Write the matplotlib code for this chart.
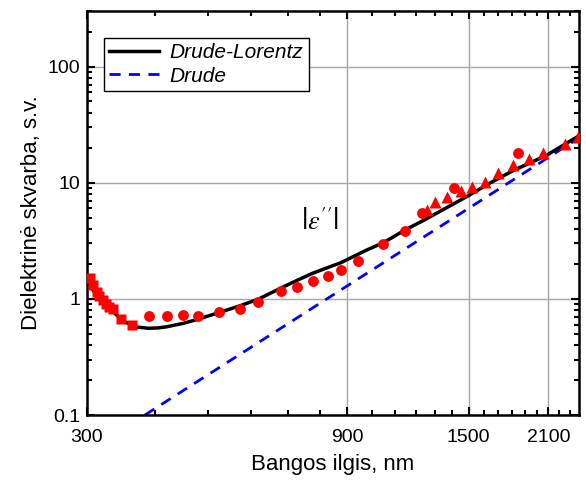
import numpy as np
import matplotlib
matplotlib.use("Agg")
import matplotlib.pyplot as plt
from matplotlib.ticker import FixedLocator, NullFormatter, FixedFormatter

plt.rcParams['font.family'] = ['Liberation Sans', 'DejaVu Sans']

# Drude-Lorentz model curve, |eps''| vs wavelength (nm)
dl_wl = [300, 305, 310, 317, 324, 335, 349, 367, 388, 405, 420, 450, 480,
         524, 574, 618, 679, 727, 777, 826, 876, 976, 1047, 1147, 1239,
         1360, 1488, 1640, 1811, 2084, 2389]
dl_val = [1.43, 1.27, 1.13, 1.0, 0.888, 0.773, 0.647, 0.575, 0.558, 0.562,
          0.575, 0.615, 0.669, 0.763, 0.876, 0.994, 1.235, 1.44, 1.66, 1.85,
          2.05, 2.63, 3.04, 3.91, 4.72, 6.0, 7.58, 9.9, 12.7, 17.2, 25.3]

# Drude model (straight line in log-log)
dr_wl = [383, 2400]
dr_val = [0.1, 24.6]

# measured points
sq_wl = [304, 308, 312.5, 316, 320.6, 325, 329.6, 335, 346, 363]
sq_val = [1.51, 1.32, 1.155, 1.06, 0.98, 0.906, 0.859, 0.816, 0.674, 0.598]

ci_wl = [390, 420, 449, 480, 524, 573, 618, 680, 727, 777, 828, 876, 942,
         1047, 1147, 1235, 1413, 1845]
ci_val = [0.705, 0.715, 0.729, 0.705, 0.778, 0.818, 0.942, 1.178, 1.275,
          1.436, 1.585, 1.774, 2.13, 2.97, 3.83, 5.51, 9.06, 18.0]

tr_wl = [1258, 1302, 1369, 1450, 1525, 1605, 1700, 1812, 1935, 2057, 2252, 2384]
tr_val = [5.87, 6.87, 7.46, 8.40, 9.15, 10.16, 12.0, 14.1, 16.1, 18.1, 21.4, 24.6]

x_major = [300, 900, 1500, 2100]
y_major = [0.1, 1, 10, 100]
y_labels = ['0.1', '1', '10', '100']

fig = plt.figure(figsize=(5.86, 4.82), dpi=100)
ax = fig.add_axes([0.1485, 0.139, 0.8395, 0.838])

ax.plot(dr_wl, dr_val, color='#0000ff', lw=2, dashes=(4, 3), label='Drude', zorder=2)
ax.plot(dl_wl, dl_val, color='black', lw=2.5, label='Drude-Lorentz', zorder=3)
ax.plot(sq_wl, sq_val, 's', color='#ff0000', ms=6.5, mec='none', zorder=4)
ax.plot(ci_wl, ci_val, 'o', color='#ff0000', ms=7.8, mec='none', zorder=4)
ax.plot(tr_wl, tr_val, '^', color='#ff0000', ms=8.5, mec='none', zorder=4)

ax.set_xscale('log')
ax.set_yscale('log')
ax.set_xlim(300, 2390)
ax.set_ylim(0.1, 300)

ax.xaxis.set_major_locator(FixedLocator(x_major))
ax.xaxis.set_major_formatter(FixedFormatter([str(v) for v in x_major]))
ax.xaxis.set_minor_locator(FixedLocator([v for v in range(400, 2400, 100) if v not in x_major]))
ax.xaxis.set_minor_formatter(NullFormatter())

ax.yaxis.set_major_locator(FixedLocator(y_major))
ax.yaxis.set_major_formatter(FixedFormatter(y_labels))
y_minor = [m * 10.0 ** e for e in range(-1, 3) for m in range(2, 10)]
ax.yaxis.set_minor_locator(FixedLocator(y_minor))
ax.yaxis.set_minor_formatter(NullFormatter())

ax.tick_params(which='both', direction='in', top=True, right=True, width=1.5)
ax.tick_params(which='major', length=6, labelsize=14)
ax.tick_params(axis='x', which='major', pad=10)
ax.tick_params(axis='y', which='major', pad=5)
ax.tick_params(which='minor', length=3.5)
for s in ax.spines.values():
    s.set_linewidth(1.8)

ax.grid(True, which='major', color='#a8a8a8', lw=1)

ax.set_xlabel('Bangos ilgis, nm', fontsize=16, labelpad=6)
ax.set_ylabel('Dielektrinė skvarba, s.v.', fontsize=16, labelpad=4)

ax.text(801, 4.67, r"$\left|\varepsilon''\right|$", fontsize=19, ha='center',
        va='center', math_fontfamily='stix')

handles, labels = ax.get_legend_handles_labels()
leg = ax.legend(handles[::-1], labels[::-1], loc='upper left',
                bbox_to_anchor=(0.0346, 0.933), borderaxespad=0,
                prop={'style': 'italic', 'size': 15}, handlelength=2.4,
                fancybox=False, framealpha=1, edgecolor='black',
                borderpad=0.25, labelspacing=0.2, handletextpad=0.5)
leg.get_frame().set_linewidth(1)

fig.savefig('out.png', dpi=100)
